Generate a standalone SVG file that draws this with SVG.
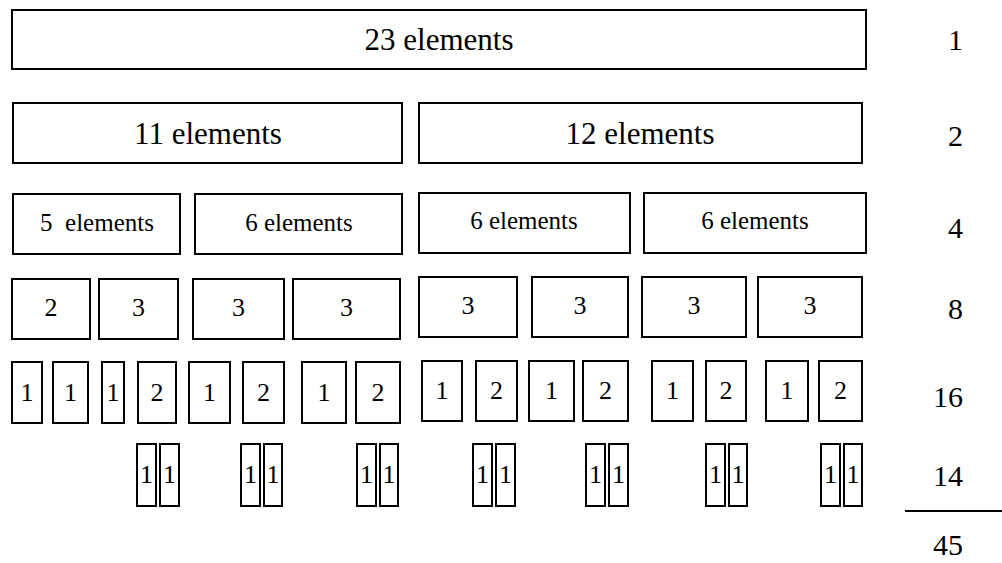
<svg xmlns="http://www.w3.org/2000/svg" width="1002" height="563" viewBox="0 0 1002 563">
<style>
rect{fill:#fff;stroke:#000;stroke-width:2}
text{font-family:'Liberation Serif','Tinos','Times New Roman','DejaVu Serif',serif;fill:#000;text-anchor:middle}
.l{font-size:31px}
.m{font-size:25px}
.s{font-size:26px}
.r{font-size:30px;text-anchor:end}
</style>
<rect x="0" y="0" width="1002" height="563" style="fill:#fff;stroke:none"/>
<g id="r1">
<g id="n23"><rect x="12" y="10" width="854" height="59"/><text class="l" x="439" y="50" font-family="Liberation Serif, serif">23 elements</text></g>
</g>
<g id="r2">
<g id="n11"><rect x="13" y="103" width="389" height="60"/><text class="l" x="208" y="144">11 elements</text></g>
<g id="n12"><rect x="419" y="103" width="443" height="60"/><text class="l" x="640" y="144">12 elements</text></g>
</g>
<g id="r3">
<g id="n5"><rect x="13" y="194" width="167" height="60"/><text class="m" x="97" y="231" xml:space="preserve">5  elements</text></g>
<g id="n6a"><rect x="195" y="194" width="207" height="60"/><text class="m" x="299" y="231">6 elements</text></g>
<g id="n6b"><rect x="419" y="193" width="211" height="60"/><text class="m" x="524" y="229">6 elements</text></g>
<g id="n6c"><rect x="644" y="193" width="222" height="60"/><text class="m" x="755" y="229">6 elements</text></g>
</g>
<g id="r4">
<g id="r4a"><rect x="12" y="279" width="78" height="60"/><text class="s" x="51" y="316">2</text></g>
<g id="r4b"><rect x="99" y="279" width="79" height="60"/><text class="s" x="138.5" y="316">3</text></g>
<g id="r4c"><rect x="193" y="279" width="91" height="60"/><text class="s" x="238.5" y="316">3</text></g>
<g id="r4d"><rect x="293" y="279" width="107" height="60"/><text class="s" x="346.5" y="316">3</text></g>
<g id="r4e"><rect x="419" y="277" width="98" height="60"/><text class="s" x="468" y="314">3</text></g>
<g id="r4f"><rect x="532" y="277" width="96" height="60"/><text class="s" x="580" y="314">3</text></g>
<g id="r4g"><rect x="642" y="277" width="104" height="60"/><text class="s" x="694" y="314">3</text></g>
<g id="r4h"><rect x="758" y="277" width="104" height="60"/><text class="s" x="810" y="314">3</text></g>
</g>
<g id="r5">
<g id="r5a"><rect x="12" y="362" width="30" height="61"/><text class="s" x="27" y="401">1</text></g>
<g id="r5b"><rect x="53" y="362" width="35" height="61"/><text class="s" x="70.5" y="401">1</text></g>
<g id="r5c"><rect x="102" y="362" width="22" height="61"/><text class="s" x="113" y="401">1</text></g>
<g id="r5d"><rect x="138" y="362" width="38" height="61"/><text class="s" x="157" y="401">2</text></g>
<g id="r5e"><rect x="189" y="362" width="41" height="61"/><text class="s" x="209.5" y="401">1</text></g>
<g id="r5f"><rect x="243" y="362" width="41" height="61"/><text class="s" x="263.5" y="401">2</text></g>
<g id="r5g"><rect x="302" y="362" width="44" height="61"/><text class="s" x="324" y="401">1</text></g>
<g id="r5h"><rect x="356" y="362" width="44" height="61"/><text class="s" x="378" y="401">2</text></g>
<g id="r5i"><rect x="422" y="361" width="40" height="60"/><text class="s" x="442" y="399">1</text></g>
<g id="r5j"><rect x="476" y="361" width="41" height="60"/><text class="s" x="496.5" y="399">2</text></g>
<g id="r5k"><rect x="529" y="361" width="45" height="60"/><text class="s" x="551.5" y="399">1</text></g>
<g id="r5l"><rect x="583" y="361" width="45" height="60"/><text class="s" x="605.5" y="399">2</text></g>
<g id="r5m"><rect x="652" y="361" width="41" height="60"/><text class="s" x="672.5" y="399">1</text></g>
<g id="r5n"><rect x="706" y="361" width="40" height="60"/><text class="s" x="726" y="399">2</text></g>
<g id="r5o"><rect x="766" y="361" width="42" height="60"/><text class="s" x="787" y="399">1</text></g>
<g id="r5p"><rect x="819" y="361" width="43" height="60"/><text class="s" x="840.5" y="399">2</text></g>
</g>
<g id="r6">
<g id="p1a"><rect x="137" y="444" width="19" height="62"/><text class="s" x="146.5" y="483">1</text></g>
<g id="p1b"><rect x="160" y="444" width="19" height="62"/><text class="s" x="169.5" y="483">1</text></g>
<g id="p2a"><rect x="241" y="444" width="19" height="62"/><text class="s" x="250.5" y="483">1</text></g>
<g id="p2b"><rect x="264" y="444" width="18" height="62"/><text class="s" x="273" y="483">1</text></g>
<g id="p3a"><rect x="357" y="444" width="19" height="62"/><text class="s" x="366.5" y="483">1</text></g>
<g id="p3b"><rect x="380" y="444" width="18" height="62"/><text class="s" x="389" y="483">1</text></g>
<g id="p4a"><rect x="473" y="444" width="19" height="62"/><text class="s" x="482.5" y="483">1</text></g>
<g id="p4b"><rect x="496" y="444" width="19" height="62"/><text class="s" x="505.5" y="483">1</text></g>
<g id="p5a"><rect x="586" y="444" width="19" height="62"/><text class="s" x="595.5" y="483">1</text></g>
<g id="p5b"><rect x="609" y="444" width="19" height="62"/><text class="s" x="618.5" y="483">1</text></g>
<g id="p6a"><rect x="706" y="444" width="19" height="62"/><text class="s" x="715.5" y="483">1</text></g>
<g id="p6b"><rect x="729" y="444" width="18" height="62"/><text class="s" x="738" y="483">1</text></g>
<g id="p7a"><rect x="821" y="444" width="19" height="62"/><text class="s" x="830.5" y="483">1</text></g>
<g id="p7b"><rect x="844" y="444" width="18" height="62"/><text class="s" x="853" y="483">1</text></g>
</g>
<g id="counts">
<text class="r" x="963" y="50">1</text>
<text class="r" x="963" y="146">2</text>
<text class="r" x="963" y="238">4</text>
<text class="r" x="963" y="319">8</text>
<text class="r" x="963" y="407">16</text>
<text class="r" x="963" y="486">14</text>
<line x1="905" y1="511" x2="1002" y2="511" stroke="#000" stroke-width="2"/>
<text class="r" x="963" y="555">45</text>
</g>
</svg>
